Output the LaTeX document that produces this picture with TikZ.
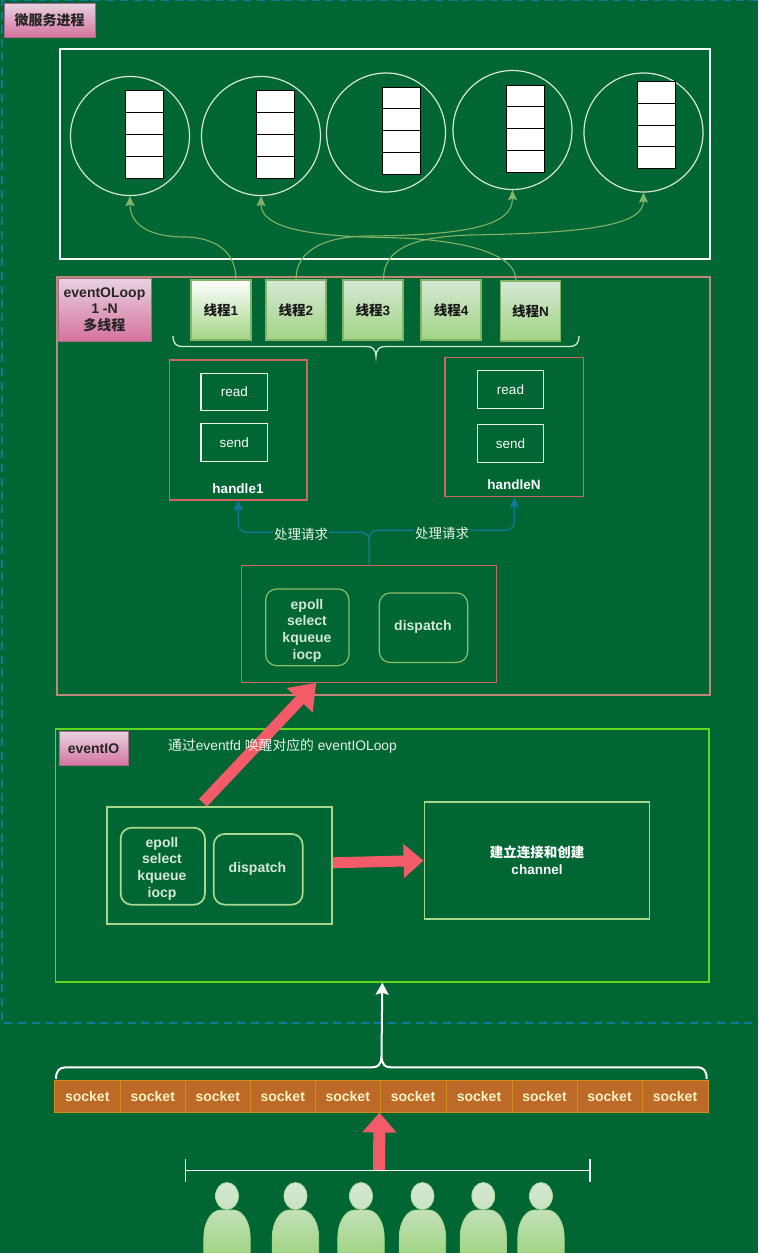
\documentclass[tikz,border=0pt]{standalone}
\usepackage{fontspec}
\setmainfont{Liberation Sans}
\newfontfamily\zh{Noto Sans CJK SC}
\usetikzlibrary{arrows.meta}
\definecolor{bggreen}{HTML}{006633}
\definecolor{dashblue}{HTML}{0E7A9E}
\definecolor{pinkline}{HTML}{CC6660}
\definecolor{tanline}{HTML}{BC8878}
\definecolor{softgreen}{HTML}{97D077}
\definecolor{palegreen}{HTML}{D5E8D4}
\definecolor{linegreen}{HTML}{82B366}
\definecolor{limegreen}{HTML}{5FD91E}
\definecolor{bigred}{HTML}{F45B69}
\definecolor{sockfill}{HTML}{BD6A28}
\definecolor{tagtop}{HTML}{E8D2E0}
\definecolor{tagbottom}{HTML}{D5739D}
\definecolor{tagline}{HTML}{A86A8C}
\tikzset{
  sz/.style 2 args={minimum width=#1,minimum height=#2},
  tagbox/.style={draw=tagline,line width=1pt,top color=tagtop,bottom color=tagbottom,text=black!85,font=\fontsize{14}{16.5}\selectfont\bfseries,align=center},
  threadbox/.style={draw=linegreen,line width=1.2pt,top color=palegreen,bottom color=softgreen!90,sz={60}{60},text=black!90,font=\fontsize{13.5}{16}\selectfont\bfseries},
  cell/.style={draw=black,fill=white,sz={38}{22},line width=.9pt},
  ring/.style={draw=palegreen,circle,minimum size=119,line width=1.2pt},
  redbox/.style={draw=pinkline,line width=1.2pt},
  rwbox/.style={draw=palegreen!50!white,line width=1.2pt,text=white!90!palegreen,sz={66.7}{37.7},font=\fontsize{13.5}{16}\selectfont},
  softbox/.style={draw=linegreen!60!softgreen,rounded corners=11,line width=1.2pt},
  softboxb/.style={softbox,draw=softgreen!80!white,line width=1.7pt},
  softtext/.style={text=palegreen,align=center,font=\fontsize{14}{16.6}\selectfont\bfseries},
  wordlabel/.style={text=white,font=\fontsize{13.5}{16}\selectfont\bfseries},
  reqlabel/.style={fill=bggreen,inner sep=1pt,text=palegreen!50!white,font=\fontsize{13.5}{16}\selectfont},
  sockbox/.style={draw=sockfill!75!yellow,fill=sockfill,line width=1pt,minimum height=32,text=yellow!15!white!92!orange,font=\fontsize{14}{16}\selectfont\bfseries},
  greenflow/.style={draw=linegreen,line width=1.1pt,-{Stealth[length=10pt,width=9pt,inset=1.5pt]}},
  reqflow/.style={draw=dashblue,line width=1.2pt,rounded corners=8,-{Stealth[length=10pt,width=9pt,inset=1.5pt]}},
  bigflow/.style={draw=bigred,line width=11pt,-{Triangle[length=20pt,width=33pt]}},
  personhead/.style={draw=softgreen!80!white,line width=.7pt,top color=palegreen,bottom color=palegreen!80!softgreen},
  personbody/.style={draw=softgreen!90!white,line width=.7pt,top color=palegreen!70!softgreen,bottom color=softgreen!90!white}
}
\begin{document}
\begin{tikzpicture}[x=1pt,y=-1pt,inner sep=0pt]
\useasboundingbox (0,0) rectangle (758,1253);
\fill[bggreen] (0,0) rectangle (758,1253);
\draw[dashblue,line width=1.7pt,dash pattern=on 8pt off 5.7pt] (758,.5)--(2,.5)--(2,1023)--(758,1023);
\node[tagbox,sz={91}{34}] (procTag) at (49.5,20) {{\zh 微服务进程}};
\node[draw=white!90!palegreen,line width=2.2pt,sz={650}{210}] (ringArea) at (385,154) {};
\node[ring] (ring1) at (130,136) {};
\node[ring] (ring2) at (261,136) {};
\node[ring] (ring3) at (386,132.5) {};
\node[ring] (ring4) at (512.5,130) {};
\node[ring] (ring5) at (643.5,132.5) {};
\node[cell] (q11) at (144,101.5) {};
\node[cell] (q12) at (144,123.5) {};
\node[cell] (q13) at (144,145.5) {};
\node[cell] (q14) at (144,167) {};
\node[cell] (q21) at (275,101.5) {};
\node[cell] (q22) at (275,123.5) {};
\node[cell] (q23) at (275,145.5) {};
\node[cell] (q24) at (275,167) {};
\node[cell] (q31) at (401,98) {};
\node[cell] (q32) at (401,119.5) {};
\node[cell] (q33) at (401,141.5) {};
\node[cell] (q34) at (401,163) {};
\node[cell] (q41) at (525.5,96) {};
\node[cell] (q42) at (525.5,117.5) {};
\node[cell] (q43) at (525.5,139.5) {};
\node[cell] (q44) at (525.5,161) {};
\node[cell] (q51) at (656,92.5) {};
\node[cell] (q52) at (656,114) {};
\node[cell] (q53) at (656,136) {};
\node[cell] (q54) at (656,157.5) {};
\node[draw=tanline,line width=1.2pt,sz={653}{418}] (loopArea) at (383.5,486) {};
\node[tagbox,sz={93}{63}] (loopTag) at (104.5,309.5) {eventOLoop\\1 -N\\{\zh 多线程}};
\node[threadbox,top color=white] (thread1) at (221,310) {{\zh 线程}1};
\node[threadbox] (thread2) at (296,310) {{\zh 线程}2};
\node[threadbox] (thread3) at (373,310) {{\zh 线程}3};
\node[threadbox] (thread4) at (451,310) {{\zh 线程}4};
\node[threadbox] (threadN) at (530.5,311) {{\zh 线程}N};
\draw[palegreen,line width=1.3pt] (173,336) .. controls (173,343) and (176,346.5) .. (182,346.5) -- (366,346.5)
.. controls (372,346.5) and (375.5,348) .. (376,356.5) .. controls (376.5,348) and (380,346.5) .. (386,346.5)
-- (570,346.5) .. controls (576,346.5) and (579,343) .. (579,336);
\node[redbox,sz={137.5}{140}] (handle1) at (238.25,430) {};
\node[rwbox] (read1) at (234.3,392) {read};
\node[rwbox] (send1) at (234.3,442.5) {send};
\node[wordlabel] (name1) at (238,489) {handle1};
\node[redbox,sz={138.7}{139.7}] (handleN) at (514.3,427) {};
\node[rwbox] (readN) at (510.5,389.5) {read};
\node[rwbox] (sendN) at (510.5,443.5) {send};
\node[wordlabel] (nameN) at (514,485) {handleN};
\node[redbox,sz={255}{116.3}] (loopBox) at (369.2,624) {};
\node[softbox,sz={83.3}{76.7}] (pollA) at (307.3,627.3) {};
\node[softtext] (pollAText) at (307,630.5) {epoll\\select\\kqueue\\iocp};
\node[softbox,sz={88.4}{69.5}] (dispatchA) at (423.5,627.7) {};
\node[softtext] (dispatchAText) at (423,627) {dispatch};
\draw[reqflow] (loopBox.north) -- ++(0,-33) -| (handle1.south);
\draw[reqflow] (loopBox.north) -- ++(0,-35) -| (handleN.south);
\node[reqlabel] (req1) at (301,534) {{\zh 处理请求}};
\node[reqlabel] (reqN) at (442,533) {{\zh 处理请求}};
\draw[greenflow] ([xshift=15]thread1.north) .. controls (236,245) and (205,237) .. (185,237) .. controls (150,237) and (130,225) .. (ring1.south);
\draw[greenflow] (thread2.north) .. controls (296,250) and (325,236) .. (370,236) .. controls (470,235) and (512.5,225) .. (ring4.south);
\draw[greenflow] ([xshift=10.5]thread3.north) .. controls (383.5,250) and (410,237) .. (470,235) .. controls (590,233) and (643.5,225) .. (ring5.south);
\draw[greenflow] ([xshift=-14.5]threadN.north) .. controls (516,250) and (450,238) .. (380,237.5) .. controls (310,236) and (261,228) .. (ring2.south);
\node[draw=limegreen,line width=1.3pt,sz={653.3}{253}] (ioArea) at (382.3,855.5) {};
\node[tagbox,sz={69}{34.5}] (ioTag) at (93.5,748.7) {eventIO};
\node[draw=softgreen!85!white,line width=1.8pt,sz={225}{117.3}] (ioBox) at (219.5,865.3) {};
\node[softboxb,sz={84.3}{77}] (pollB) at (162.8,866.2) {};
\node[softtext] (pollBText) at (162,868.5) {epoll\\select\\kqueue\\iocp};
\node[softboxb,sz={89}{70.7}] (dispatchB) at (258.2,869.3) {};
\node[softtext] (dispatchBText) at (257.5,868.5) {dispatch};
\node[draw=softgreen!85!white,line width=1.8pt,sz={225}{117},text=white,align=center,font=\fontsize{13.5}{17}\selectfont\bfseries] (connBox) at (537,860.5) {{\zh 建立连接和创建}\\channel};
\draw[bigflow,-{Triangle[length=24pt,width=34pt]}] ([xshift=-16.5,yshift=3]ioBox.north) -- ([xshift=-53]loopBox.south);
\draw[bigflow] ([yshift=2.5]ioBox.east) -- (connBox.west);
\node[text=palegreen!50!white,font=\fontsize{13.8}{16}\selectfont] (wakeText) at (282.5,746) {{\zh 通过}eventfd {\zh 唤醒对应的} eventIOLoop};
\node[sockbox,minimum width=65.5] (sock1) at (87.25,1096) {socket};
\node[sockbox,minimum width=65.5] (sock2) at (152.75,1096) {socket};
\node[sockbox,minimum width=64.5] (sock3) at (217.75,1096) {socket};
\node[sockbox,minimum width=65.5] (sock4) at (282.75,1096) {socket};
\node[sockbox,minimum width=64.5] (sock5) at (347.75,1096) {socket};
\node[sockbox,minimum width=66] (sock6) at (413,1096) {socket};
\node[sockbox,minimum width=66] (sock7) at (479,1096) {socket};
\node[sockbox,minimum width=65] (sock8) at (544.5,1096) {socket};
\node[sockbox,minimum width=65] (sock9) at (609.5,1096) {socket};
\node[sockbox,minimum width=66] (sock10) at (675,1096) {socket};
\draw[white,line width=2pt] (56,1079) .. controls (56,1071) and (59,1067.3) .. (66,1067.3) -- (372,1067.3)
.. controls (378,1067.3) and (381,1065) .. (381.5,1056) .. controls (382,1065) and (385,1067.3) .. (391,1067.3)
-- (697,1067.3) .. controls (704,1067.3) and (706.7,1071) .. (706.7,1079);
\coordinate (braceTip) at (381.5,1056);
\draw[white,line width=2pt,-{Stealth[length=12pt,width=13pt,inset=2pt]}] (braceTip) -- (ioArea.south);
\coordinate (crowdTop) at (379,1170.5);
\draw[bigflow,line width=12pt] (crowdTop) -- (sock6.south west);
\coordinate (crowdLeft) at (184.5,1170.5);
\coordinate (crowdRight) at (590.5,1170.5);
\draw[white!90!palegreen,line width=1.8pt,{Bar[width=23pt]}-{Bar[width=23pt]}] (crowdLeft) -- (crowdRight);
\draw[personhead] (227,1196) ellipse [x radius=11.5,y radius=13.5];
\draw[personbody] (203.8,1253) -- ++(0,-16) .. controls +(0,-15) and +(-9,0) .. ++(16.7,-27) -- ++(13,0) .. controls +(9,0) and +(0,-15) .. ++(16.7,27) -- ++(0,16);
\draw[personhead] (295.5,1196) ellipse [x radius=11.5,y radius=13.5];
\draw[personbody] (272.3,1253) -- ++(0,-16) .. controls +(0,-15) and +(-9,0) .. ++(16.7,-27) -- ++(13,0) .. controls +(9,0) and +(0,-15) .. ++(16.7,27) -- ++(0,16);
\draw[personhead] (361,1196) ellipse [x radius=11.5,y radius=13.5];
\draw[personbody] (337.8,1253) -- ++(0,-16) .. controls +(0,-15) and +(-9,0) .. ++(16.7,-27) -- ++(13,0) .. controls +(9,0) and +(0,-15) .. ++(16.7,27) -- ++(0,16);
\draw[personhead] (422.5,1196) ellipse [x radius=11.5,y radius=13.5];
\draw[personbody] (399.3,1253) -- ++(0,-16) .. controls +(0,-15) and +(-9,0) .. ++(16.7,-27) -- ++(13,0) .. controls +(9,0) and +(0,-15) .. ++(16.7,27) -- ++(0,16);
\draw[personhead] (483.3,1196) ellipse [x radius=11.5,y radius=13.5];
\draw[personbody] (460.1,1253) -- ++(0,-16) .. controls +(0,-15) and +(-9,0) .. ++(16.7,-27) -- ++(13,0) .. controls +(9,0) and +(0,-15) .. ++(16.7,27) -- ++(0,16);
\draw[personhead] (541,1196) ellipse [x radius=11.5,y radius=13.5];
\draw[personbody] (517.8,1253) -- ++(0,-16) .. controls +(0,-15) and +(-9,0) .. ++(16.7,-27) -- ++(13,0) .. controls +(9,0) and +(0,-15) .. ++(16.7,27) -- ++(0,16);
\end{tikzpicture}
\end{document}
